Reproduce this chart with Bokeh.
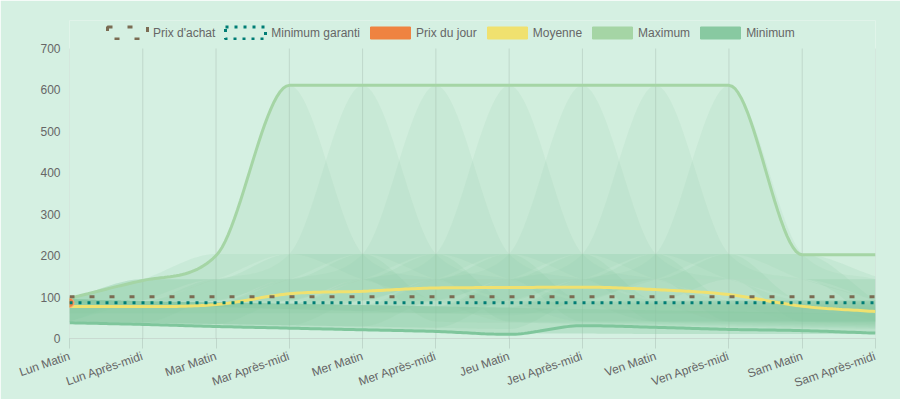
import math
from bokeh.plotting import figure
from bokeh.models import Range1d, FixedTicker, Legend, LegendItem, ColumnDataSource
from bokeh.embed import file_html
from bokeh.resources import INLINE

# ---------------- data ----------------
jours = ["Lun Matin", "Lun Après-midi", "Mar Matin", "Mar Après-midi", "Mer Matin",
         "Mer Après-midi", "Jeu Matin", "Jeu Après-midi", "Ven Matin", "Ven Après-midi",
         "Sam Matin", "Sam Après-midi"]
y_ticks = [0, 100, 200, 300, 400, 500, 600, 700]

prix_achat = [101, 101, 101, 101, 101, 101, 101, 101, 101, 101, 101, 101]
minimum_garanti = [86, 86, 86, 86, 86, 86, 86, 86, 86, 86, 86, 86]
prix_du_jour = [86]          # only Lun Matin is known
moyenne = [77, 77, 82, 108, 114, 122, 123, 124, 118, 106, 78, 65]
maximum = [97, 140, 200, 611, 611, 611, 611, 611, 611, 611, 202, 202]
minimum = [38, 34, 29, 25, 21, 17, 10, 31, 27, 22, 19, 13]

# translucent pattern areas (upper / lower bounds of each possible pattern)
grands_pics_max = [
    [95, 143, 204, 611, 204, 143, 92, 92, 92, 92, 92, 92],
    [95, 90, 143, 204, 611, 204, 143, 92, 92, 92, 92, 92],
    [95, 90, 87, 143, 204, 611, 204, 143, 92, 92, 92, 92],
    [95, 90, 87, 84, 143, 204, 611, 204, 143, 92, 92, 92],
    [95, 90, 87, 84, 81, 143, 204, 611, 204, 143, 92, 92],
    [95, 90, 87, 84, 81, 78, 143, 204, 611, 204, 143, 92],
    [95, 90, 87, 84, 81, 78, 75, 143, 204, 611, 204, 143],
]
grands_pics_min = [
    [86, 92, 143, 204, 143, 92, 41, 41, 41, 41, 41, 41],
    [86, 81, 92, 143, 204, 143, 92, 41, 41, 41, 41, 41],
    [86, 81, 76, 92, 143, 204, 143, 92, 41, 41, 41, 41],
    [86, 81, 76, 71, 92, 143, 204, 143, 92, 41, 41, 41],
    [86, 81, 76, 71, 66, 92, 143, 204, 143, 92, 41, 41],
    [86, 81, 76, 71, 66, 61, 92, 143, 204, 143, 92, 41],
    [86, 81, 76, 71, 66, 61, 56, 92, 143, 204, 143, 92],
]
petits_pics_max = [
    [95, 143, 204, 204, 204, 92, 89, 86, 83, 80, 77, 74],
    [95, 143, 143, 204, 204, 204, 92, 89, 86, 83, 80, 77],
    [95, 90, 143, 143, 204, 204, 204, 92, 89, 86, 83, 80],
    [95, 90, 87, 143, 143, 204, 204, 204, 92, 89, 86, 83],
    [95, 90, 87, 84, 143, 143, 204, 204, 204, 92, 89, 86],
    [95, 90, 87, 84, 81, 143, 143, 204, 204, 204, 92, 89],
    [95, 90, 87, 84, 81, 78, 143, 143, 204, 204, 204, 92],
    [95, 90, 87, 84, 81, 78, 75, 143, 143, 204, 204, 150],
]
petits_pics_min = [
    [41, 92, 143, 143, 143, 41, 38, 35, 32, 29, 26, 23],
    [41, 92, 92, 143, 143, 143, 41, 38, 35, 32, 29, 26],
    [41, 38, 92, 92, 143, 143, 143, 41, 38, 35, 32, 29],
    [41, 38, 35, 92, 92, 143, 143, 143, 41, 38, 35, 32],
    [41, 38, 35, 32, 92, 92, 143, 143, 143, 41, 38, 35],
    [41, 38, 35, 32, 29, 92, 92, 143, 143, 143, 41, 38],
    [41, 38, 35, 32, 29, 26, 92, 92, 143, 143, 143, 41],
    [41, 38, 35, 32, 29, 26, 23, 92, 92, 143, 143, 92],
]
aleatoire_max = [95, 143, 143, 143, 143, 143, 143, 143, 143, 143, 143, 143]
aleatoire_min = [61, 61, 61, 61, 61, 61, 61, 61, 61, 61, 61, 61]
decroissant_max = [92, 89, 86, 83, 80, 77, 74, 71, 68, 65, 62, 59]
decroissant_min = [38, 34, 29, 25, 21, 17, 13, 12, 11, 11, 11, 11]

# ---------------- helpers ----------------
def monotone(ys, n=24):
    """Chart.js style monotone cubic interpolation on x = 0..len-1."""
    N = len(ys)
    d = [ys[i + 1] - ys[i] for i in range(N - 1)]
    sgn = lambda v: (v > 0) - (v < 0)
    m = [0.0] * N
    for i in range(N):
        if i == 0:
            m[i] = d[0]
        elif i == N - 1:
            m[i] = d[-1]
        elif sgn(d[i - 1]) != sgn(d[i]):
            m[i] = 0.0
        else:
            m[i] = (d[i - 1] + d[i]) / 2
    for i in range(N - 1):
        if abs(d[i]) < 1e-9:
            m[i] = m[i + 1] = 0.0
            continue
        a = m[i] / d[i]
        b = m[i + 1] / d[i]
        s = a * a + b * b
        if s <= 9:
            continue
        t = 3 / math.sqrt(s)
        m[i] = a * t * d[i]
        m[i + 1] = b * t * d[i]
    xs, out = [], []
    for i in range(N - 1):
        for k in range(n):
            t = k / n
            h00 = 2 * t ** 3 - 3 * t ** 2 + 1
            h10 = t ** 3 - 2 * t ** 2 + t
            h01 = -2 * t ** 3 + 3 * t ** 2
            h11 = t ** 3 - t ** 2
            xs.append(i + t)
            out.append(h00 * ys[i] + h10 * m[i] + h01 * ys[i + 1] + h11 * m[i + 1])
    xs.append(N - 1)
    out.append(ys[-1])
    return xs, out

CARD = "#D5F0E2"
GREY = "#666666"
FONT = "Liberation Sans"

# plot frame spans from the legend row down to 0; the value scale itself is 290 px for 0..700
TOP, BOTTOM, LEFT, RIGHT = 20, 61, 69, 25
FRAME_H = 399 - TOP - BOTTOM
y_top = y_ticks[-1] * FRAME_H / 290.0

p = figure(width=900, height=399,
           x_range=Range1d(0, len(jours) - 1), y_range=Range1d(y_ticks[0], y_top),
           output_backend="svg", toolbar_location=None,
           min_border_left=LEFT, min_border_right=RIGHT, min_border_top=TOP,
           min_border_bottom=BOTTOM,
           background_fill_color=CARD, border_fill_color=CARD, outline_line_color=None)

idx = list(range(len(jours)))

# vertical grid lines, stopping at the top tick (700) like the original
p.segment(x0=idx, y0=[y_ticks[0]] * len(idx), x1=idx, y1=[y_ticks[-1]] * len(idx),
          line_color="black", line_alpha=0.1, line_width=1)

# ---------------- fills ----------------
xs, up = monotone(maximum)
_, lo = monotone(minimum)
p.varea(x=xs, y1=lo, y2=up, fill_color="#A5D5A5", fill_alpha=0.08)

for hi_row, lo_row in zip(grands_pics_max, grands_pics_min):
    _, u = monotone(hi_row)
    _, l = monotone(lo_row)
    p.varea(x=xs, y1=l, y2=u, fill_color="#88C9A1", fill_alpha=0.12)

for hi_row, lo_row in zip(petits_pics_max, petits_pics_min):
    _, u = monotone(hi_row)
    _, l = monotone(lo_row)
    p.varea(x=xs, y1=l, y2=u, fill_color="#88C9A1", fill_alpha=0.15)

_, u = monotone(aleatoire_max)
_, l = monotone(aleatoire_min)
p.varea(x=xs, y1=l, y2=u, fill_color="#88C9A1", fill_alpha=0.25)
_, u = monotone(decroissant_max)
_, l = monotone(decroissant_min)
p.varea(x=xs, y1=l, y2=u, fill_color="#88C9A1", fill_alpha=0.35)

# ---------------- lines ----------------
_, y = monotone(minimum)
p.line(xs, y, line_color="#7FC69C", line_width=3)
_, y = monotone(maximum)
p.line(xs, y, line_color="#A5D5A5", line_width=3)
_, y = monotone(moyenne)
p.line(xs, y, line_color="#F0E16F", line_width=3)
p.scatter(x=idx[:len(prix_du_jour)], y=prix_du_jour, size=9, fill_color="#EF8341",
          line_color="#F6A77C", line_width=1)
p.line(idx, minimum_garanti, line_color="#007D75", line_width=3, line_dash="3 6")
p.line(idx, prix_achat, line_color="#7B6C53", line_width=3, line_dash="5 15")

# ---------------- legend (Chart.js style boxes) ----------------
# zero-sized proxy rects: invisible in the plot, used only for the legend swatches
proxy = ColumnDataSource(data=dict(x=[idx[0]], y=[y_ticks[0]]))
def box(**kw):
    return p.rect(x="x", y="y", width=0, height=0, source=proxy, **kw)
r1 = box(fill_alpha=0, line_color="#7B6C53", line_width=3, line_dash="5 15")
r2 = box(fill_alpha=0, line_color="#007D75", line_width=3, line_dash="3 6")
r3 = box(fill_color="#EF8341", line_color="#EF8341", line_width=1)
r4 = box(fill_color="#F0E16F", line_color="#F0E16F", line_width=1)
r5 = box(fill_color="#A5D5A5", line_color="#A5D5A5", line_width=1)
r6 = box(fill_color="#88C9A1", line_color="#88C9A1", line_width=1)
legend = Legend(items=[
    LegendItem(label="Prix d'achat", renderers=[r1]),
    LegendItem(label="Minimum garanti", renderers=[r2]),
    LegendItem(label="Prix du jour", renderers=[r3]),
    LegendItem(label="Moyenne", renderers=[r4]),
    LegendItem(label="Maximum", renderers=[r5]),
    LegendItem(label="Minimum", renderers=[r6]),
], orientation="horizontal", location=(33, FRAME_H - 20),
    glyph_width=50, glyph_height=15, label_standoff=1, spacing=5,
    padding=0, margin=0, label_height=15,
    label_text_font=FONT, label_text_font_size="12px", label_text_color=GREY,
    background_fill_alpha=0, border_line_alpha=0)
p.add_layout(legend)

# ---------------- axes ----------------
xa = p.xaxis[0]
xa.ticker = FixedTicker(ticks=idx)
xa.major_label_overrides = {i: s for i, s in enumerate(jours)}
xa.major_label_orientation = 0.33
xa.major_label_standoff = 7
xa.axis_line_color = "black"
xa.axis_line_alpha = 0.1
xa.major_tick_line_color = "black"
xa.major_tick_line_alpha = 0.1
xa.major_tick_out = 10
xa.major_tick_in = 0
xa.minor_tick_line_color = None

ya = p.yaxis[0]
ya.ticker = FixedTicker(ticks=y_ticks)
ya.axis_line_color = None
ya.major_tick_line_color = None
ya.major_tick_out = 0
ya.major_tick_in = 0
ya.minor_tick_line_color = None
ya.major_label_standoff = 9

p.axis.major_label_text_font = FONT
p.axis.major_label_text_font_size = "12px"
p.axis.major_label_text_color = GREY

p.xgrid.grid_line_color = None
p.ygrid.grid_line_color = None

open("out.html", "w").write(file_html(p, INLINE))
